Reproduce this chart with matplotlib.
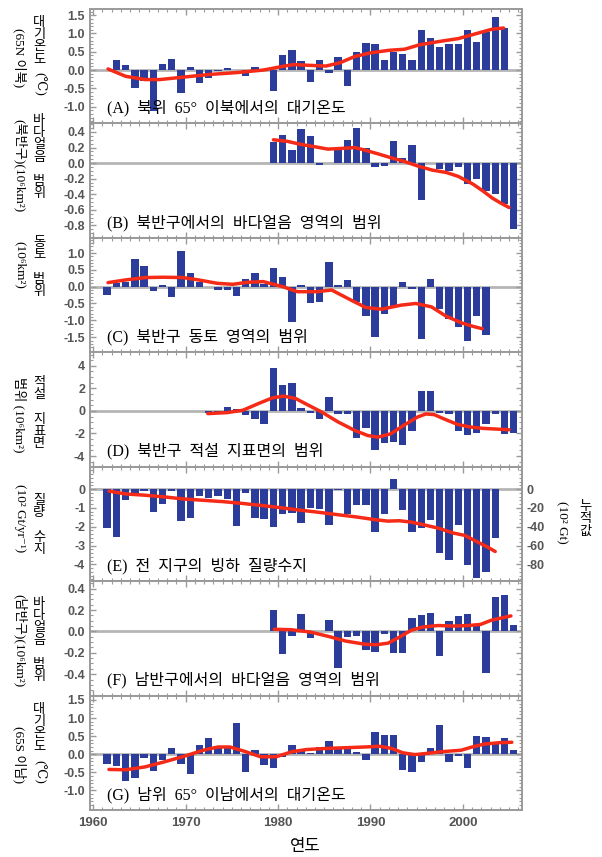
import numpy as np
import matplotlib
matplotlib.use('Agg')
import matplotlib.pyplot as plt
from matplotlib.ticker import MultipleLocator, FormatStrFormatter, FixedLocator

plt.rcParams['axes.unicode_minus'] = False

# ---------------- data ----------------
a_years = np.arange(1961, 2005)
a_vals = [0.0, 0.27, 0.15, -0.5, -0.3, -1.12, 0.17, 0.3, -0.62, 0.07, -0.35, -0.22, -0.02,
          0.05, 0.0, -0.15, 0.07, 0.0, -0.57, 0.4, 0.55, 0.25, -0.32, 0.27, -0.07, 0.37,
          -0.43, 0.5, 0.75, 0.7, 0.27, 0.5, 0.43, 0.28, 1.1, 0.87, 0.62, 0.7, 0.72, 1.1,
          0.78, 1.05, 1.45, 1.15]
a_line_x = [1961.6, 1963.5, 1965.6, 1967.2, 1969.5, 1972.6, 1975.5, 1978.4, 1980.5, 1981.7,
            1983.3, 1985.2, 1986.7, 1988.3, 1990.0, 1992.0, 1993.7, 1995.3, 1997.4, 1999.5,
            2001.5, 2003.2, 2004.4]
a_line_y = [0.03, -0.17, -0.26, -0.26, -0.2, -0.12, -0.07, 0.0, 0.1, 0.15, 0.13, 0.11, 0.2,
            0.37, 0.47, 0.54, 0.57, 0.69, 0.78, 0.86, 1.0, 1.12, 1.15]

b_years = np.arange(1979, 2006)
b_vals = [0.27, 0.36, 0.17, 0.44, 0.35, -0.02, 0.0, 0.2, 0.3, 0.45, 0.2, -0.05, -0.04, 0.28,
          0.06, 0.23, -0.48, 0.0, -0.07, -0.1, -0.05, -0.27, -0.2, -0.36, -0.4, -0.52, -0.85]
b_line_x = [1979.5, 1981.0, 1982.5, 1984.0, 1985.4, 1987.0, 1988.3, 1989.3, 1990.8, 1992.2,
            1993.7, 1995.2, 1996.7, 1998.2, 1999.5, 2001.1, 2002.2, 2003.2, 2004.2, 2005.0]
b_line_y = [0.3, 0.28, 0.24, 0.21, 0.18, 0.19, 0.2, 0.17, 0.12, 0.07, 0.02, -0.04, -0.09,
            -0.12, -0.17, -0.27, -0.36, -0.45, -0.52, -0.57]

c_years = np.arange(1961, 2003)
c_vals = [-0.25, 0.1, 0.15, 0.82, 0.6, -0.12, 0.05, -0.3, 1.07, 0.4, 0.15, 0.0, -0.1, -0.1,
          -0.27, 0.22, 0.4, 0.08, 0.55, 0.3, -1.05, 0.05, -0.5, -0.45, 0.72, 0.05, 0.2, -0.45,
          -0.87, -1.5, -0.8, -0.6, 0.15, -0.08, -1.55, 0.22, -0.67, -0.95, -1.2, -1.62, -0.87,
          -1.45]
c_line_x = [1961.6, 1963.5, 1965.6, 1967.6, 1969.7, 1971.4, 1973.4, 1975.1, 1976.7, 1978.4,
            1980.5, 1982.1, 1984.2, 1985.8, 1987.9, 1989.5, 1991.2, 1993.3, 1994.9, 1996.6,
            1998.2, 1999.9, 2001.1, 2002.1]
c_line_y = [0.12, 0.2, 0.27, 0.28, 0.27, 0.2, 0.1, 0.07, 0.13, 0.15, 0.0, -0.15, -0.15, -0.1,
            -0.4, -0.62, -0.67, -0.55, -0.5, -0.6, -0.88, -1.08, -1.18, -1.25]

d_years = np.arange(1972, 2006)
d_vals = [-0.2, -0.15, 0.36, 0.2, -0.4, -0.7, -1.2, 3.8, 2.3, 2.5, 0.24, -0.18, -0.75, 1.25,
          -0.3, -0.24, -2.4, -1.5, -3.5, -2.85, -2.75, -3.05, -1.75, 1.8, 1.8, -0.15, -0.3,
          -1.8, -2.15, -1.95, -1.2, -0.3, -2.05, -2.0]
d_line_x = [1972.4, 1974.5, 1976.2, 1977.9, 1979.4, 1980.6, 1981.9, 1983.3, 1984.7, 1986.5,
            1988.3, 1989.7, 1990.8, 1992.2, 1993.6, 1995.1, 1996.0, 1996.9, 1997.9, 1999.4,
            2000.8, 2002.2, 2005.0]
d_line_y = [-0.24, -0.15, 0.06, 0.66, 1.16, 1.31, 1.1, 0.5, -0.09, -0.98, -1.73, -2.18, -2.33,
            -2.03, -1.28, -0.54, -0.27, -0.33, -0.69, -1.19, -1.43, -1.55, -1.67]

e_years = np.arange(1961, 2004)
e_vals = [-2.07, -2.55, -0.55, -0.2, -0.1, -1.21, -0.77, -0.1, -1.7, -1.52,
          -0.37, -0.45, -0.37, -0.5, -1.96, -0.18, -1.54, -1.61, -2.02, -1.3,
          -1.27, -1.79, -0.98, -1.04, -1.89, -0.05, -1.3, -0.82, -0.82, -2.29,
          -1.3, 0.54, -1.09, -2.29, -2.07, -1.66, -3.39, -3.75, -1.93, -4.04,
          -4.75, -4.39, -2.6]
# cumulative (right axis, 10^2 Gt)
e_cum_x = [1961.7, 1963.5, 1965.6, 1967.7, 1969.8, 1971.9, 1974.0, 1976.0, 1978.1, 1980.2,
           1982.3, 1984.4, 1986.5, 1988.5, 1990.6, 1991.9, 1993.1, 1994.4, 1995.6, 1997.3,
           1999.0, 2000.2, 2001.5, 2002.7, 2003.5]
e_cum_y = [-2, -5, -6.4, -8.2, -10.4, -11.8, -13.2, -15, -17.2, -19.6, -22.2, -24.6, -27.2,
           -29.6, -32.6, -34, -33.6, -35, -37.6, -41.4, -46.8, -49.2, -55.8, -61.8, -66.4]

f_years = np.arange(1979, 2006)
f_vals = [0.2, -0.21, -0.04, 0.16, -0.06, 0.0, 0.11, -0.34, -0.05, -0.04, -0.17, -0.19, -0.02,
          -0.2, -0.2, 0.13, 0.15, 0.17, -0.23, 0.1, 0.14, 0.16, 0.06, -0.39, 0.32, 0.34, 0.06]
f_line_x = [1979.6, 1981.4, 1983.5, 1985.6, 1987.3, 1989.4, 1990.6, 1991.9, 1993.1, 1994.4,
            1995.6, 1997.3, 1999.0, 2000.6, 2001.9, 2003.1, 2005.2]
f_line_y = [0.02, 0.016, -0.006, -0.05, -0.09, -0.12, -0.125, -0.11, -0.055, 0.01, 0.04,
            0.055, 0.05, 0.055, 0.065, 0.105, 0.145]

g_years = np.arange(1961, 2006)
g_vals = [-0.28, -0.33, -0.74, -0.65, -0.1, -0.47, -0.17, 0.16, -0.26, -0.54, 0.25, 0.44,
          0.22, 0.22, 0.85, -0.49, 0.11, -0.31, -0.38, -0.09, 0.25, 0.11, 0.04, 0.2, 0.37,
          0.16, 0.2, 0.07, -0.17, 0.62, 0.53, 0.53, -0.43, -0.49, -0.21, 0.16, 0.8, -0.21,
          -0.06, -0.38, 0.5, 0.48, 0.34, 0.45, 0.13]
g_line_x = [1961.7, 1963.5, 1965.6, 1967.7, 1969.8, 1971.9, 1973.5, 1974.8, 1976.5, 1978.1,
            1979.8, 1981.5, 1983.1, 1985.2, 1987.3, 1989.4, 1991.0, 1992.3, 1993.5, 1994.8,
            1996.0, 1997.7, 1999.8, 2001.0, 2002.3, 2004.0, 2005.3]
g_line_y = [-0.42, -0.43, -0.35, -0.21, -0.06, 0.11, 0.2, 0.2, 0.07, -0.07, -0.07, 0.07,
            0.13, 0.16, 0.18, 0.2, 0.22, 0.16, 0.04, -0.01, 0.02, 0.07, 0.11, 0.2, 0.28, 0.32,
            0.33]

titles = ["(A)  북위  65°  이북에서의  대기온도",
          "(B)  북반구에서의  바다얼음  영역의  범위",
          "(C)  북반구  동토  영역의  범위",
          "(D)  북반구  적설  지표면의  범위",
          "(E)  전  지구의  빙하  질량수지",
          "(F)  남반구에서의  바다얼음  영역의  범위",
          "(G)  남위  65°  이남에서의  대기온도"]
x_ticks = [1960, 1970, 1980, 1990, 2000]
x_label = "연도"

# ---------------- style ----------------
BLUE = '#2b3c9b'
RED = '#f52a17'
GRAY = '#9a9a9a'
TICKC = '#555555'
SERIF = ['Liberation Serif', 'DejaVu Serif', 'Noto Sans CJK KR']
CJK = ['Noto Sans CJK KR', 'DejaVu Sans']

W, H = 602, 857
fig = plt.figure(figsize=(W / 100, H / 100), dpi=100)
gs = fig.add_gridspec(7, 1, left=90 / W, right=522 / W, top=1 - 9 / H, bottom=1 - 810 / H,
                      hspace=0)

panels = [
    (a_years, a_vals, a_line_x, a_line_y, (-1.46, 1.67), [-1.0, -0.5, 0.0, 0.5, 1.0, 1.5], 0.1, '%.1f'),
    (b_years, b_vals, b_line_x, b_line_y, (-0.96, 0.51), [-0.8, -0.6, -0.4, -0.2, 0.0, 0.2, 0.4], 0.05, '%.1f'),
    (c_years, c_vals, c_line_x, c_line_y, (-1.95, 1.45), [-1.5, -1.0, -0.5, 0.0, 0.5, 1.0], 0.1, '%.1f'),
    (d_years, d_vals, d_line_x, d_line_y, (-4.95, 5.2), [-4, -2, 0, 2, 4], 0.5, '%d'),
    (e_years, e_vals, None, None, (-4.9, 1.2), [-4, -3, -2, -1, 0], 0.2, '%d'),
    (f_years, f_vals, f_line_x, f_line_y, (-0.6, 0.47), [-0.4, -0.2, 0.0, 0.2, 0.4], 0.05, '%.1f'),
    (g_years, g_vals, g_line_x, g_line_y, (-1.54, 1.62), [-1.0, -0.5, 0.0, 0.5, 1.0, 1.5], 0.1, '%.1f'),
]

axes = []
for i, (yrs, vals, lx, ly, ylim, yt, ymin, fmt) in enumerate(panels):
    ax = fig.add_subplot(gs[i])
    axes.append(ax)
    ax.axhline(0, color='#b5b5b5', lw=2.0, zorder=1)
    ax.bar(np.asarray(yrs) + 0.5, vals, width=0.8, color=BLUE, zorder=2, linewidth=0)
    if lx is not None:
        ax.plot(lx, ly, color=RED, lw=2.5, zorder=3, solid_capstyle='round')
    ax.set_xlim(1959.65, 2006.4)
    ax.set_ylim(*ylim)
    ax.yaxis.set_major_locator(FixedLocator(yt))
    ax.yaxis.set_minor_locator(MultipleLocator(ymin))
    ax.yaxis.set_major_formatter(FormatStrFormatter(fmt))
    ax.xaxis.set_major_locator(FixedLocator(x_ticks))
    ax.xaxis.set_minor_locator(MultipleLocator(1))
    for sp in ax.spines.values():
        sp.set_color(GRAY)
        sp.set_linewidth(1.4)
    ax.tick_params(which='both', direction='in', color=GRAY, top=True,
                   right=(i != 4), labelsize=9, labelcolor=TICKC)
    ax.tick_params(which='major', length=4, width=1)
    ax.tick_params(which='minor', length=2, width=0.8)
    ax.tick_params(axis='x', labelsize=9.5, pad=5)
    for lab in ax.get_yticklabels():
        lab.set_fontweight('bold')
        lab.set_family('Liberation Sans')
    if i < 6:
        ax.tick_params(axis='x', labelbottom=False)
    else:
        for lab in ax.get_xticklabels():
            lab.set_fontweight('bold')
            lab.set_family('Liberation Sans')
    ax.text(0.04, 0.06, titles[i], transform=ax.transAxes, fontsize=11.5,
            family=SERIF, va='bottom', ha='left', zorder=4)

# E panel right axis (cumulative)
axe = axes[4]
ax2 = axe.twinx()
lo, hi = panels[4][4]
ax2.set_ylim(lo * 20, hi * 20)
ax2.plot(e_cum_x, e_cum_y, color=RED, lw=2.5, zorder=3, solid_capstyle='round')
ax2.yaxis.set_major_locator(FixedLocator([-80, -60, -40, -20, 0]))
ax2.yaxis.set_minor_locator(MultipleLocator(4))
ax2.yaxis.set_major_formatter(FormatStrFormatter('%d'))
ax2.tick_params(which='both', direction='in', color=GRAY, labelsize=9, labelcolor=TICKC)
ax2.tick_params(which='major', length=4, width=1)
ax2.tick_params(which='minor', length=2, width=0.8)
for sp in ax2.spines.values():
    sp.set_color(GRAY)
    sp.set_linewidth(1.4)
for lab in ax2.get_yticklabels():
    lab.set_fontweight('bold')
    lab.set_family('Liberation Sans')

fig.text(305 / W, 1 - 847 / H, x_label, family=CJK, fontsize=12, ha='center', va='center')

# ---------------- y-axis label columns ----------------
def fy(py):
    return 1 - py / H

def rot(px, py, s, size=9.5):
    fig.text(px / W, fy(py), s, rotation=-90, family=SERIF, fontsize=size,
             ha='center', va='center')

def stack(px, ptop, s, size=9.5):
    fig.text(px / W, fy(ptop), "\n".join(s), family=CJK, fontsize=size,
             ha='center', va='top', linespacing=0.92)

C1, C2 = 20, 39
# A
rot(C1, 58, "(65N 이북)")
stack(C2, 16, "대기온도")
rot(C2, 84, "(℃)")
# B
rot(C1, 166, "(북반구)(10⁶km²)")
stack(C2, 114, "바다얼음 범위")
# C
rot(C1, 265, "(10⁶km²)")
stack(C2, 236, "동토 범위")
# D
rot(C1, 415, "범위 (10⁶km²)")
stack(C2, 376, "적설 지표면")
# E
rot(C1, 518, "(10² Gt/yr⁻¹)")
stack(C2, 494, "질량 수지")
# F
rot(C1, 641, "(남반구)(10⁶km²)")
stack(C2, 597, "바다얼음 범위")
# G
rot(C1, 755, "(65S 이남)")
stack(C2, 703, "대기온도")
rot(C2, 772, "(℃)")
# E right
rot(562, 522, "(10² Gt)")
stack(585, 500, "누적값")

fig.savefig('out.png', dpi=100)
